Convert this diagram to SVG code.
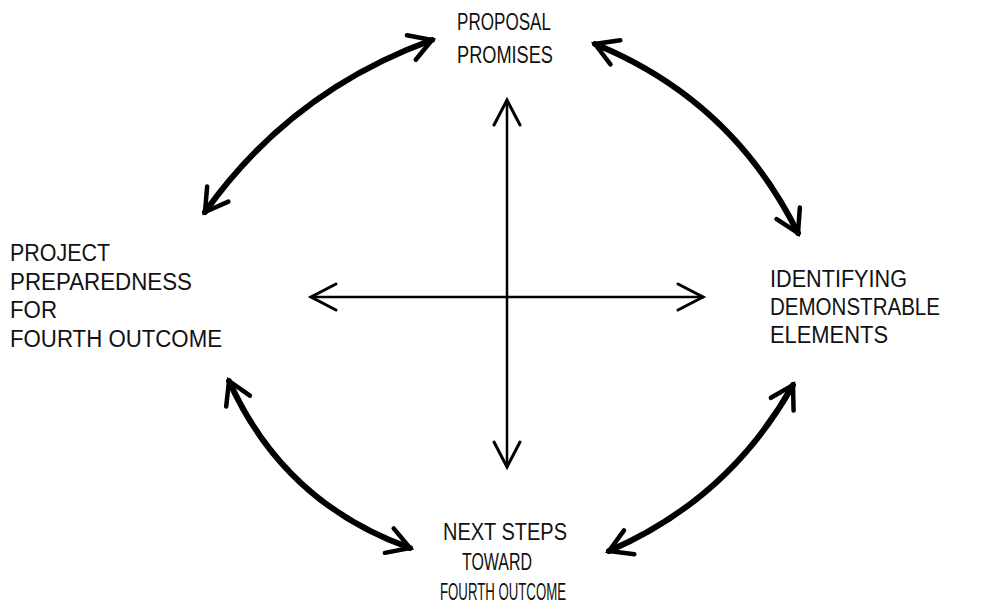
<svg xmlns="http://www.w3.org/2000/svg" width="999" height="612" viewBox="0 0 999 612">
<style>
.t{font-family:"Liberation Sans",Arial,sans-serif;font-size:23px;fill:#111;}
.n{font-size:24px;}
.thin{fill:none;stroke:#000;stroke-width:2.5;stroke-linecap:round;}
.thick{fill:none;stroke:#000;stroke-width:6;stroke-linecap:round;}
</style>
<defs>
<marker id="hThin" markerUnits="userSpaceOnUse" viewBox="-30 -16 34 32" markerWidth="34" markerHeight="32" refX="0" refY="0" orient="auto-start-reverse">
<path d="M-25,-13 L0,0 L-25,13" fill="none" stroke="#000" stroke-width="3" stroke-linejoin="miter" stroke-linecap="round"/>
</marker>
<marker id="hThick" markerUnits="userSpaceOnUse" viewBox="-30 -18 36 36" markerWidth="36" markerHeight="36" refX="0" refY="0" orient="auto-start-reverse">
<path d="M-22,-13 L0,0 L-22,13" fill="none" stroke="#000" stroke-width="4.5" stroke-linejoin="miter" stroke-linecap="round"/>
</marker>
</defs>
<rect width="999" height="612" fill="#fff"/>
<g id="connectors">
<line class="thin" x1="507" y1="100" x2="507" y2="467" marker-start="url(#hThin)" marker-end="url(#hThin)"/>
<line class="thin" x1="311" y1="297" x2="703" y2="297" marker-start="url(#hThin)" marker-end="url(#hThin)"/>
<path class="thick" d="M205,212 Q291,91 432,40" marker-start="url(#hThick)" marker-end="url(#hThick)"/>
<path class="thick" d="M595,44 Q732,100 798,233" marker-start="url(#hThick)" marker-end="url(#hThick)"/>
<path class="thick" d="M229,381 Q284,503 410,548" marker-start="url(#hThick)" marker-end="url(#hThick)"/>
<path class="thick" d="M793,385 Q729,499 609,551" marker-start="url(#hThick)" marker-end="url(#hThick)"/>
</g>
<g id="node-proposal">
<text class="t n" x="457" y="30" textLength="94" lengthAdjust="spacingAndGlyphs">PROPOSAL</text>
<text class="t n" x="457" y="63" textLength="96" lengthAdjust="spacingAndGlyphs">PROMISES</text>
</g>
<g id="node-identifying">
<text class="t" x="770" y="287" textLength="137" lengthAdjust="spacingAndGlyphs">IDENTIFYING</text>
<text class="t" x="770" y="315" textLength="170" lengthAdjust="spacingAndGlyphs">DEMONSTRABLE</text>
<text class="t" x="770" y="343" textLength="118" lengthAdjust="spacingAndGlyphs">ELEMENTS</text>
</g>
<g id="node-project">
<text class="t" x="10" y="261" textLength="100" lengthAdjust="spacingAndGlyphs">PROJECT</text>
<text class="t" x="10" y="290" textLength="182" lengthAdjust="spacingAndGlyphs">PREPAREDNESS</text>
<text class="t" x="10" y="318" textLength="47" lengthAdjust="spacingAndGlyphs">FOR</text>
<text class="t" x="10" y="347" textLength="212" lengthAdjust="spacingAndGlyphs">FOURTH OUTCOME</text>
</g>
<g id="node-nextsteps">
<text class="t n" x="443" y="540" textLength="124" lengthAdjust="spacingAndGlyphs">NEXT STEPS</text>
<text class="t n" x="462" y="570" textLength="70" lengthAdjust="spacingAndGlyphs">TOWARD</text>
<text class="t n" x="440" y="600" textLength="126" lengthAdjust="spacingAndGlyphs">FOURTH OUTCOME</text>
</g>
</svg>
